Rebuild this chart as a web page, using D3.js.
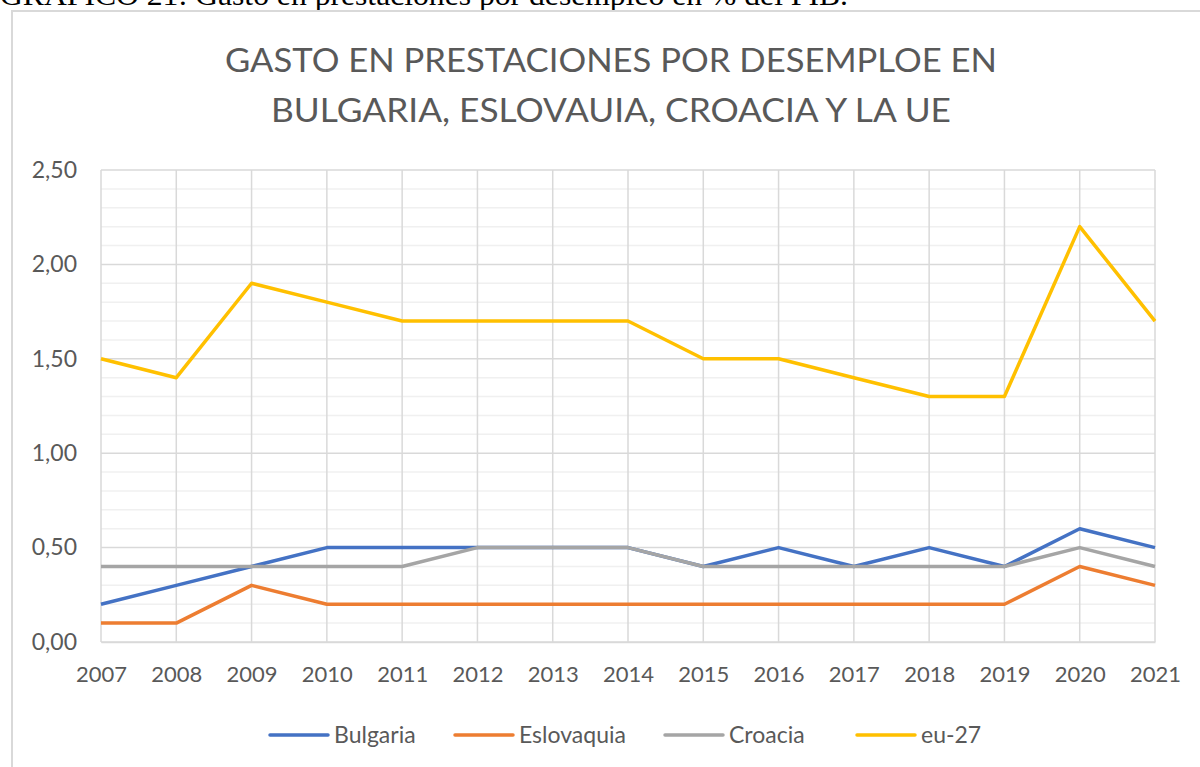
<!DOCTYPE html>
<html><head><meta charset="utf-8">
<script src="https://cdn.jsdelivr.net/npm/d3@7"></script>
<style>body{margin:0;background:#fff;}svg{display:block;}</style>
</head><body>
<svg id="c" width="1200" height="767"></svg>
<script>
const years = [2007,2008,2009,2010,2011,2012,2013,2014,2015,2016,2017,2018,2019,2020,2021];
const bulgaria   = [0.2,0.3,0.4,0.5,0.5,0.5,0.5,0.5,0.4,0.5,0.4,0.5,0.4,0.6,0.5];
const eslovaquia = [0.1,0.1,0.3,0.2,0.2,0.2,0.2,0.2,0.2,0.2,0.2,0.2,0.2,0.4,0.3];
const croacia    = [0.4,0.4,0.4,0.4,0.4,0.5,0.5,0.5,0.4,0.4,0.4,0.4,0.4,0.5,0.4];
const eu27       = [1.5,1.4,1.9,1.8,1.7,1.7,1.7,1.7,1.5,1.5,1.4,1.3,1.3,2.2,1.7];
const seriesNames = ["Bulgaria","Eslovaquia","Croacia","eu-27"];
const yTicks = [0,0.5,1.0,1.5,2.0,2.5];
const titleLines = ["GASTO EN PRESTACIONES POR DESEMPLOE EN","BULGARIA, ESLOVAUIA, CROACIA Y LA UE"];
const caption = "GRÁFICO 21: Gasto en prestaciones por desempleo en % del PIB.";

const colors = ["#4472C4","#ED7D31","#A5A5A5","#FFC000"];
const series = [bulgaria, eslovaquia, croacia, eu27];
const font = "Lato, 'Open Sans', sans-serif";

const svg = d3.select("#c");
// caption (cut off at top, as in the source)
svg.append("text").attr("x",0).attr("y",5).attr("font-family","'Liberation Serif', serif")
  .attr("font-size",30).attr("fill","#000").attr("textLength",848).attr("lengthAdjust","spacingAndGlyphs").text(caption);
// chart border
svg.append("rect").attr("x",12).attr("y",11).attr("width",1200).attr("height",800)
  .attr("fill","#fff").attr("stroke","#d9d9d9").attr("stroke-width",2);

const x = d3.scalePoint().domain(years).range([101,1155]);
const y = d3.scaleLinear().domain([0,2.5]).range([642,170]);

// minor gridlines
const minor = d3.range(0,25).map(i=>i/10).filter(v=>Math.round(v*10)%5!==0);
svg.append("g").selectAll("line").data(minor).join("line")
  .attr("x1",x.range()[0]).attr("x2",x.range()[1])
  .attr("y1",d=>y(d)).attr("y2",d=>y(d)).attr("stroke","#f0f0f0").attr("stroke-width",1.5);
// major horizontal gridlines
svg.append("g").selectAll("line").data(yTicks).join("line")
  .attr("x1",x.range()[0]).attr("x2",x.range()[1])
  .attr("y1",d=>y(d)).attr("y2",d=>y(d)).attr("stroke","#d9d9d9").attr("stroke-width",1.5);
// vertical gridlines
svg.append("g").selectAll("line").data(years).join("line")
  .attr("x1",d=>x(d)).attr("x2",d=>x(d))
  .attr("y1",y(2.5)).attr("y2",y(0)).attr("stroke","#d9d9d9").attr("stroke-width",1.5);

// y axis labels
const fmt = d=>d3.format(".2f")(d).replace(".",",");
const yAxis = svg.append("g").attr("transform",`translate(${x.range()[0]},0)`)
  .call(d3.axisLeft(y).tickValues(yTicks).tickFormat(fmt).tickSize(0).tickPadding(24));
yAxis.select(".domain").remove();
yAxis.selectAll("text").attr("font-family",font).attr("font-size",23).attr("fill","#595959");

// x axis labels
const xAxis = svg.append("g").attr("transform",`translate(0,${y(0)})`)
  .call(d3.axisBottom(x).tickSize(0).tickPadding(24));
xAxis.select(".domain").attr("stroke","#d9d9d9").attr("stroke-width",1.5);
xAxis.selectAll("text").attr("font-family",font).attr("font-size",22).attr("fill","#595959");

// lines
const line = d3.line().x((d,i)=>x(years[i])).y(d=>y(d));
series.forEach((s,k)=>{
  svg.append("path").datum(s).attr("d",line).attr("fill","none")
    .attr("stroke",colors[k]).attr("stroke-width",3.5).attr("stroke-linejoin","round");
});

// title
const titleW = [772,680];
titleLines.forEach((t,i)=>{
  svg.append("text").attr("x",611).attr("y",72+i*50).attr("text-anchor","middle")
    .attr("font-family",font).attr("font-size",32).attr("fill","#595959")
    .attr("textLength",titleW[i]).attr("lengthAdjust","spacingAndGlyphs").text(t);
});

// legend
const legX = [270,455,665,857];
seriesNames.forEach((n,k)=>{
  const g = svg.append("g").attr("transform",`translate(${legX[k]},735)`);
  g.append("line").attr("x1",0).attr("x2",58).attr("y1",0).attr("y2",0)
    .attr("stroke",colors[k]).attr("stroke-width",3.5).attr("stroke-linecap","round");
  g.append("text").attr("x",64).attr("y",8).attr("font-family",font).attr("font-size",23)
    .attr("fill","#595959").text(n);
});
</script>
</body></html>
